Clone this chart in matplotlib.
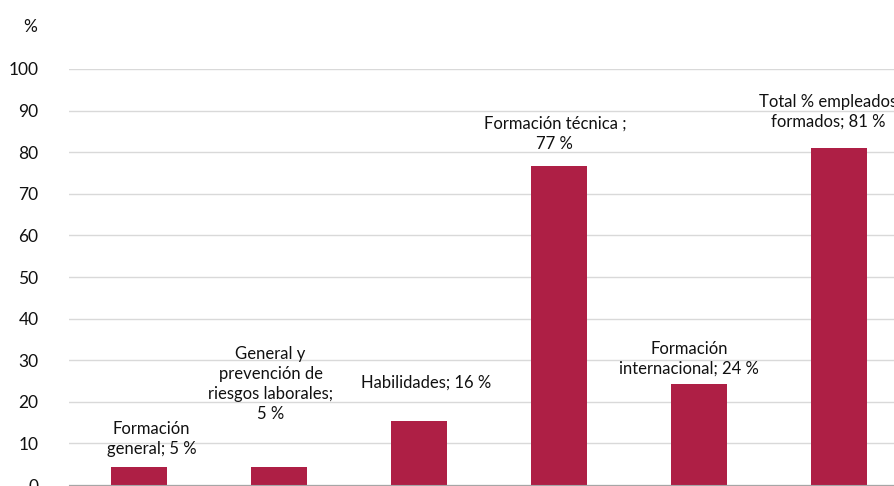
import matplotlib
matplotlib.use("Agg")
import matplotlib.pyplot as plt

# datos
categorias = ["Formación general", "General y prevención de riesgos laborales",
              "Habilidades", "Formación técnica", "Formación internacional",
              "Total % empleados formados"]
valores = [4.3, 4.3, 15.4, 76.7, 24.3, 81.0]
etiquetas = ["Formación\ngeneral; 5 %",
             "General y\nprevención de\nriesgos laborales;\n5 %",
             "Habilidades; 16 %",
             "Formación técnica ;\n77 %",
             "Formación\ninternacional; 24 %",
             "Total % empleados\nformados; 81 %"]
# posición de las etiquetas (x relativo a la barra, y en %)
etiqueta_dx = [0.09, -0.06, 0.05, -0.03, -0.07, -0.08]
etiqueta_y = [11.1, 24.3, 24.5, 84.4, 30.3, 89.7]
yticks = list(range(0, 101, 10))

plt.rcParams["font.family"] = ["Lato", "DejaVu Sans"]

fig = plt.figure(figsize=(8.95, 4.86), dpi=100)
ax = fig.add_axes([69 / 895, 1 / 486, 840 / 895, 416 / 486])

x = list(range(len(categorias)))
ax.bar(x, valores, width=0.4, color="#AE1F45", zorder=3)

for i in x:
    ax.text(i + etiqueta_dx[i], etiqueta_y[i], etiquetas[i], ha="center", va="center",
            fontsize=12, color="#111111", linespacing=1.3, zorder=4)

ax.set_xlim(-0.5, len(categorias) - 0.5)
ax.set_ylim(0, 100)
ax.set_yticks(yticks)
ax.set_xticks([])
ax.tick_params(axis="y", length=0, pad=22, labelsize=12.5, labelcolor="#111111")
ax.grid(axis="y", color="#d9d9d9", linewidth=1, zorder=0)
for s in ["top", "right", "left"]:
    ax.spines[s].set_visible(False)
ax.spines["bottom"].set_color("#a6a6a6")
ax.spines["bottom"].set_zorder(5)

fig.text(30 / 895, 1 - 27 / 486, "%", ha="center", va="center", fontsize=12.5, color="#111111")

fig.savefig("out.png", dpi=100)
